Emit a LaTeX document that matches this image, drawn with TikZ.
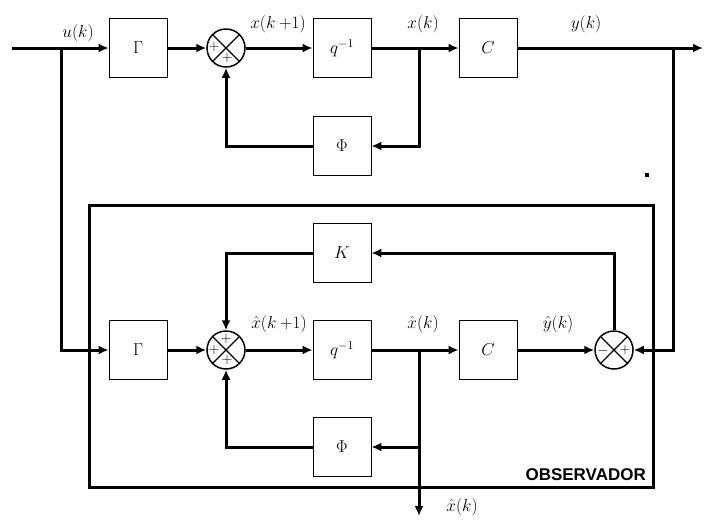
\documentclass[tikz,border=0pt]{standalone}
\usepackage{amsmath}
\usepackage{fontspec}
\newfontfamily\obsfont{Liberation Sans}
\usetikzlibrary{arrows.meta, positioning}

\begin{document}
\begin{tikzpicture}[x=1pt, y=-1pt, >={Latex[length=10pt,width=9pt]},
    block/.style={draw, line width=0.8pt, minimum width=58pt, minimum height=59pt, inner sep=0pt, font=\fontsize{18}{21}\selectfont},
    sumnode/.style={circle, draw, line width=1.5pt, minimum size=38pt, inner sep=0pt,
      path picture={\draw[line width=1.2pt] (path picture bounding box.north west) -- (path picture bounding box.south east)
        (path picture bounding box.north east) -- (path picture bounding box.south west);}},
    sig/.style={->, line width=3pt},
    lbl/.style={font=\fontsize{19}{22}\selectfont, inner sep=0pt},
    sgn/.style={font=\fontsize{14}{16}\selectfont, inner sep=0pt}]
      \useasboundingbox (0,0) rectangle (704,523);

      % planta
      \node[block] (gamma1) at (138,48) {$\Gamma$};
      \node[sumnode] (sumx) at (226,48) {};
      \node[block] (delay1) at (342,48) {$q^{-1}$};
      \node[block] (phi1) at (342,146) {$\Phi$};
      \node[block] (cout1) at (488,48) {$C$};

      % observador
      \node[draw, line width=3pt, minimum width=564pt, minimum height=282pt] (obs) at (371,346) {};
      \node[anchor=east, inner sep=0pt, font=\obsfont\bfseries\fontsize{17}{20}\selectfont] (obslbl) at (646,475) {OBSERVADOR};
      \node[block] (gain) at (342,253) {$K$};
      \node[block] (gamma2) at (138,350) {$\Gamma$};
      \node[sumnode] (sumxh) at (226,350) {};
      \node[block] (delay2) at (342,350) {$q^{-1}$};
      \node[block] (phi2) at (342,447) {$\Phi$};
      \node[block] (cout2) at (488,350) {$C$};
      \node[sumnode] (sumerr) at (614,350) {};

      % signos
      \node[sgn] (s1) at (214,47) {$+$};
      \node[sgn] (s2) at (227,58) {$+$};
      \node[sgn] (s3) at (226,339) {$+$};
      \node[sgn] (s4) at (214,350) {$+$};
      \node[sgn] (s5) at (227,360) {$+$};
      \node[sgn] (s6) at (603,351) {$-$};
      \node[sgn] (s7) at (625,350) {$+$};

      % etiquetas
      \node[lbl] (lu) at (78,33) {$u(k)$};
      \node[lbl] (lx1) at (278,24) {$x(k\:{+}1)$};
      \node[lbl] (lx) at (423,24) {$x(k)$};
      \node[lbl] (ly) at (586,24) {$y(k)$};
      \node[lbl] (lxh1) at (279,324) {$\hat{x}(k\:{+}1)$};
      \node[lbl] (lxh) at (423,324) {$\hat{x}(k)$};
      \node[lbl] (lyh) at (558,324) {$\hat{y}(k)$};
      \node[lbl] (lxo) at (462,507) {$\hat{x}(k)$};

      \coordinate (in) at (12,48);
      \coordinate (ub) at (61,48);
      \coordinate (xb) at (419,48);
      \coordinate (yb) at (673,48);
      \coordinate (out) at (703,48);
      \coordinate (xhb) at (419,350);
      \coordinate (xhp) at (419,447);
      \coordinate (xout) at (419,516);

      \draw[sig] (in) -- (gamma1);
      \draw[sig] (ub) |- (gamma2);
      \draw[sig] (gamma1) -- (sumx);
      \draw[sig] (sumx) -- (delay1);
      \draw[sig] (delay1) -- (cout1);
      \draw[sig] (xb) |- (phi1);
      \draw[sig] (phi1) -| (sumx);
      \draw[sig] (cout1) -- (out);
      \draw[sig] (yb) |- (sumerr);

      \draw[sig] (gamma2) -- (sumxh);
      \draw[sig] (sumxh) -- (delay2);
      \draw[sig] (delay2) -- (cout2);
      \draw[sig] (cout2) -- (sumerr);
      \draw[sig] (xhb) -- (xout);
      \draw[sig] (xhp) -- (phi2);
      \draw[sig] (phi2) -| (sumxh);
      \draw[sig] (sumerr) |- (gain);
      \draw[sig] (gain) -| (sumxh);

      \fill (645,173) rectangle (649,177);
    \end{tikzpicture}
\end{document}
